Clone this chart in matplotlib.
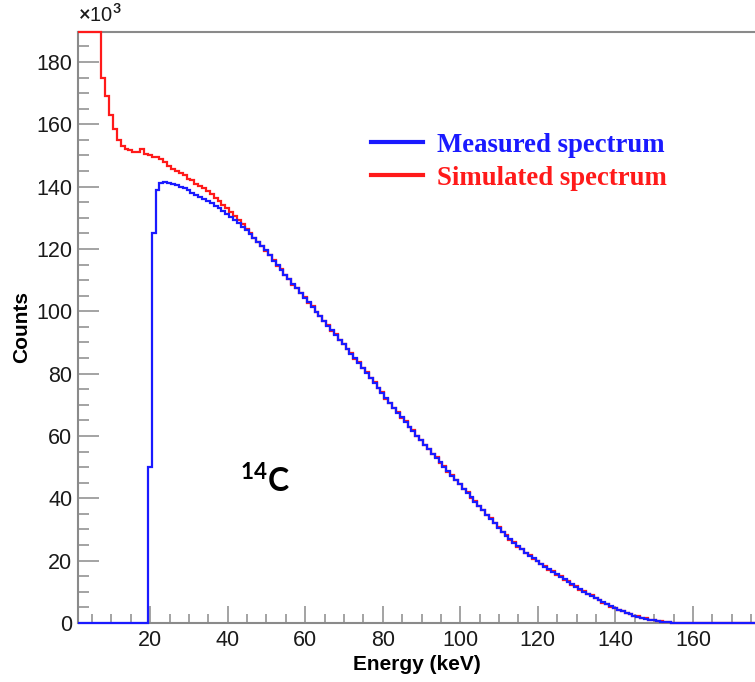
import numpy as np
import matplotlib
matplotlib.use("Agg")
import matplotlib.pyplot as plt
from matplotlib.ticker import MultipleLocator

# 14C beta spectrum, counts in units of 10^3, 1 keV bins starting at 1.4 keV
bin_start = 1.4
bin_width = 1.0

measured = [
    0, 0, 0, 0, 0, 0, 0, 0, 0, 0,
    0, 0, 0, 0, 0, 0, 0, 0, 50, 125,
    139, 141.3, 141.6, 141.3, 141.0, 140.5, 140.0, 139.4, 138.8, 138.1,
    137.4, 136.8, 136.1, 135.4, 134.6, 133.8, 133.0, 132.1, 131.2, 130.3,
    129.3, 128.3, 127.2, 126.0, 124.8, 123.5, 122.2, 120.9, 119.6, 118.0,
    116.2, 114.8, 113.3, 111.8, 110.3, 108.8, 107.4, 105.9, 104.4, 102.9,
    101.4, 99.9, 98.4, 96.9, 95.4, 93.9, 92.4, 90.9, 89.4, 87.9,
    86.4, 84.9, 83.5, 81.9, 80.3, 78.6, 77.0, 75.4, 73.8, 72.1,
    70.5, 69.0, 67.5, 66.0, 64.5, 63.0, 61.6, 60.1, 58.6, 57.2,
    55.7, 54.3, 52.9, 51.5, 50.1, 48.7, 47.3, 45.9, 44.5, 43.1,
    41.7, 40.3, 38.9, 37.5, 36.2, 34.8, 33.5, 32.1, 30.5, 29.2,
    27.9, 26.8, 25.7, 24.6, 23.6, 22.6, 21.6, 20.7, 19.8, 18.9,
    18.0, 17.2, 16.4, 15.6, 14.8, 14.0, 13.2, 12.4, 11.6, 10.8,
    10.1, 9.4, 8.7, 8.0, 7.3, 6.6, 6.0, 5.3, 4.7, 4.2,
    3.7, 3.2, 2.8, 2.4, 2.0, 1.7, 1.4, 1.1, 0.85, 0.65,
    0.45, 0.3, 0.2, 0.1, 0.05, 0, 0, 0, 0, 0,
    0, 0, 0, 0, 0, 0, 0, 0, 0, 0,
    0, 0, 0, 0, 0,
]

simulated = [
    260, 240, 225, 212, 202, 194, 175, 169, 163, 158.5,
    155, 153, 152.2, 151.6, 151.2, 151.0, 152.0, 150.5, 150.0, 149.6,
    149.4, 149.0, 148.0, 146.6, 145.8, 145.0, 144.3, 143.7, 142.5, 142.0,
    141.0, 140.2, 139.5, 138.7, 137.5, 136.5, 135.3, 134.2, 133.0, 131.8,
    130.5, 129.2, 127.9, 126.5, 125.0, 123.6, 122.2, 120.8, 119.5, 118.1,
    116.4, 114.6, 113.5, 111.7, 110.5, 108.6, 107.6, 105.8, 104.6, 102.8,
    101.6, 99.8, 98.6, 96.8, 95.6, 93.8, 92.6, 90.8, 89.6, 87.8,
    86.6, 84.8, 83.7, 81.8, 80.5, 78.5, 77.2, 75.3, 74.0, 72.0,
    70.7, 68.9, 67.7, 65.9, 64.7, 62.9, 61.8, 60.0, 58.8, 57.1,
    55.9, 54.2, 53.1, 51.4, 50.3, 48.6, 47.5, 45.8, 44.7, 43.0,
    41.9, 40.2, 39.1, 37.4, 36.4, 34.7, 33.7, 32.0, 30.7, 29.1,
    28.1, 26.7, 25.9, 24.5, 23.8, 22.5, 21.8, 20.6, 20.0, 18.8,
    18.2, 17.1, 16.6, 15.5, 15.0, 13.9, 13.4, 12.3, 11.8, 10.7,
    10.3, 9.3, 8.9, 7.9, 7.5, 6.5, 6.2, 5.2, 4.9, 4.1,
    3.9, 3.1, 2.9, 2.3, 2.1, 1.6, 1.5, 1.0, 0.9, 0.6,
    0.5, 0.25, 0.2, 0.08, 0.05, 0, 0, 0, 0, 0,
    0, 0, 0, 0, 0, 0, 0, 0, 0, 0,
    0, 0, 0, 0, 0,
]

series_labels = ["Measured spectrum", "Simulated spectrum"]
x_ticks = [20, 40, 60, 80, 100, 120, 140, 160]
y_ticks = [0, 20, 40, 60, 80, 100, 120, 140, 160, 180]

edges = bin_start + bin_width * np.arange(len(measured) + 1)
y_top = 189.7

plt.rcParams['mathtext.fontset'] = 'custom'
plt.rcParams['mathtext.rm'] = 'Lato:bold'
plt.rcParams['mathtext.bf'] = 'Lato:bold'

fig = plt.figure(figsize=(7.55, 6.82), dpi=100)
ax = fig.add_axes([0.1033, 0.0865, 0.8967, 0.867])

axis_grey = '#8a8a8a'

# ROOT-style: bins above the frame are drawn along the top edge
h_sim = ax.stairs(np.minimum(simulated, y_top), edges, baseline=None,
                  color='#ff1a1a', lw=1.6, label=series_labels[1],
                  clip_on=False, zorder=3)
h_meas = ax.stairs(measured, edges, baseline=None, color='#1a1aff', lw=1.6,
                   label=series_labels[0], clip_on=False, zorder=3)

ax.set_xlim(1.4, 176)
ax.set_ylim(0, y_top)

ax.set_xticks(x_ticks)
ax.set_yticks(y_ticks)
ax.xaxis.set_minor_locator(MultipleLocator(5))
ax.yaxis.set_minor_locator(MultipleLocator(5))

for s in ['left', 'bottom', 'top']:
    ax.spines[s].set_color(axis_grey)
    ax.spines[s].set_linewidth(1.5)
ax.spines['right'].set_visible(False)

ax.tick_params(axis='both', which='both', direction='in', color=axis_grey,
               width=1.1, labelsize=15.5, top=False, right=False,
               labelfontfamily='Liberation Sans', labelcolor='#1a1a1a')
ax.tick_params(axis='x', which='major', length=12, pad=5)
ax.tick_params(axis='x', which='minor', length=6.7)
ax.tick_params(axis='y', which='major', length=15, pad=4)
ax.tick_params(axis='y', which='minor', length=8)

ax.set_xlabel('Energy (keV)', fontsize=15, fontweight='bold',
              family='Liberation Sans', labelpad=3)
ax.set_ylabel('Counts', fontsize=15, fontweight='bold',
              family='Liberation Sans', labelpad=4)

fig.text(0.1033, 0.962, r'$\times$10$^3$', fontsize=14.5,
         family='Liberation Sans', color='#1a1a1a', ha='left', va='bottom')

leg = ax.legend(handles=[h_meas, h_sim], loc='upper left',
                bbox_to_anchor=(0.433, 0.829), frameon=False,
                prop={'family': 'Liberation Serif', 'weight': 'bold', 'size': 19.3},
                labelcolor='linecolor', handlelength=1.94, handletextpad=0.52,
                labelspacing=0.3, borderpad=0, borderaxespad=0)
for line in leg.get_lines():
    line.set_linewidth(3)

ax.text(43.2, 42, r'$^{14}$C', fontsize=23, family='Lato', fontweight='bold',
        ha='left', va='baseline')

fig.savefig('out.png', dpi=100)
